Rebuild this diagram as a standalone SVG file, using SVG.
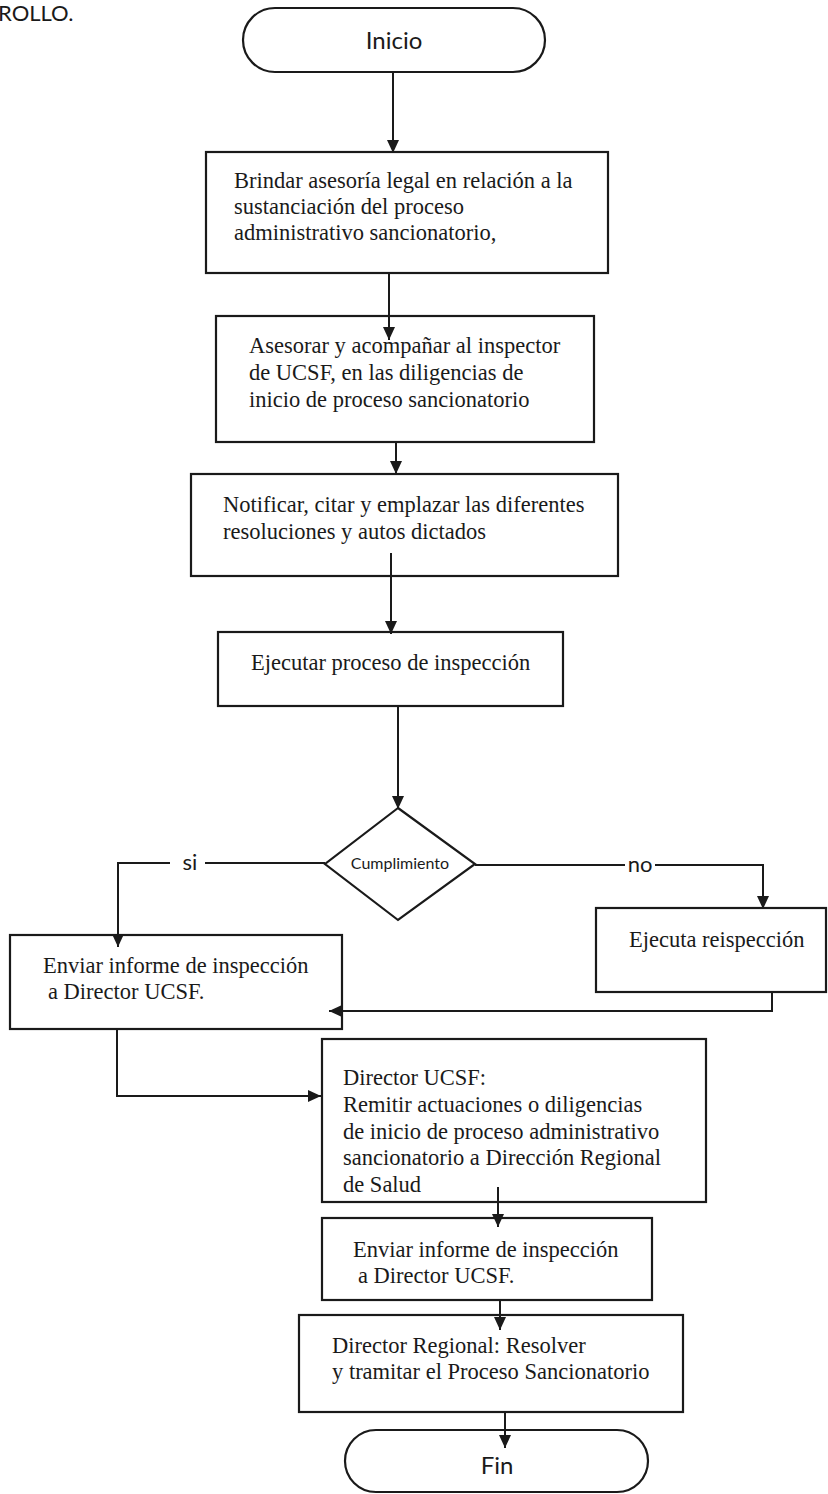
<svg xmlns="http://www.w3.org/2000/svg" width="828" height="1494" viewBox="0 0 828 1494">
<defs>
<marker id="arr" markerUnits="userSpaceOnUse" markerWidth="14" markerHeight="14" viewBox="0 0 14 14" refX="13" refY="7" orient="auto">
<path d="M0,1 L13,7 L0,13 Z" fill="#1a1a1a"/>
</marker>
</defs>
<style>
.box{fill:#fff;stroke:#1a1a1a;stroke-width:2.2}
.term{fill:#fff;stroke:#1a1a1a;stroke-width:2.2}
.t{font-family:"Liberation Serif","Times New Roman",serif;font-size:22.5px;fill:#1a1a1a}
.s{font-family:Lato,"Liberation Sans",sans-serif;fill:#1a1a1a}
.c{fill:none;stroke:#1a1a1a;stroke-width:2}
.ca{fill:none;stroke:#1a1a1a;stroke-width:2;marker-end:url(#arr)}
</style>
<rect width="828" height="1494" fill="#fff"/>
<text class="s" x="-2" y="21" font-size="22">ROLLO.</text>

<g id="inicio">
<rect class="term" x="243" y="8" width="302" height="64" rx="32"/>
<text class="s" x="394" y="49" font-size="24" text-anchor="middle">Inicio</text>
</g>

<g id="n1">
<rect class="box" x="206" y="152" width="402" height="121"/>
<text class="t" x="234" y="188">Brindar asesoría legal en relación a la</text>
<text class="t" x="234" y="214">sustanciación del proceso</text>
<text class="t" x="234" y="240">administrativo sancionatorio,</text>
</g>

<g id="n2">
<rect class="box" x="216" y="316" width="378" height="126"/>
<text class="t" x="249" y="353">Asesorar y acompañar al inspector</text>
<text class="t" x="249" y="380">de UCSF, en las diligencias de</text>
<text class="t" x="249" y="407">inicio de proceso sancionatorio</text>
</g>

<g id="n3">
<rect class="box" x="191" y="474" width="427" height="102"/>
<text class="t" x="223" y="512">Notificar, citar y emplazar las diferentes</text>
<text class="t" x="223" y="539">resoluciones y autos dictados</text>
</g>

<g id="n4">
<rect class="box" x="218" y="632" width="345" height="74"/>
<text class="t" x="251" y="670">Ejecutar proceso de inspección</text>
</g>

<g id="decision">
<polygon class="box" points="398,808 475,864 398,920 325,864"/>
<text class="s" x="400" y="869" font-size="16" text-anchor="middle">Cumplimiento</text>
</g>

<g id="labels">
<text class="s" x="190" y="870" font-size="22" text-anchor="middle">si</text>
<text class="s" x="640" y="872" font-size="22" text-anchor="middle">no</text>
</g>

<g id="n5">
<rect class="box" x="10" y="935" width="332" height="94"/>
<text class="t" x="43" y="973">Enviar informe de inspección</text>
<text class="t" x="48" y="999">a Director UCSF.</text>
</g>

<g id="n6">
<rect class="box" x="596" y="908" width="230" height="84"/>
<text class="t" x="629" y="947">Ejecuta reispección</text>
</g>

<g id="n7">
<rect class="box" x="322" y="1039" width="384" height="163"/>
<text class="t" x="343" y="1085">Director UCSF:</text>
<text class="t" x="343" y="1112">Remitir actuaciones o diligencias</text>
<text class="t" x="343" y="1139">de inicio de proceso administrativo</text>
<text class="t" x="343" y="1165">sancionatorio a Dirección Regional</text>
<text class="t" x="343" y="1192">de Salud</text>
</g>

<g id="n8">
<rect class="box" x="322" y="1218" width="330" height="82"/>
<text class="t" x="353" y="1257">Enviar informe de inspección</text>
<text class="t" x="358" y="1283">a Director UCSF.</text>
</g>

<g id="n9">
<rect class="box" x="299" y="1315" width="384" height="97"/>
<text class="t" x="332" y="1353">Director Regional: Resolver</text>
<text class="t" x="332" y="1379">y tramitar el Proceso Sancionatorio</text>
</g>

<g id="fin">
<rect class="term" x="345" y="1430" width="303" height="62" rx="31"/>
<text class="s" x="497" y="1474" font-size="24" text-anchor="middle">Fin</text>
</g>

<g id="connectors">
<line class="ca" x1="393" y1="72" x2="393" y2="153"/>
<line class="ca" x1="389" y1="273" x2="389" y2="340"/>
<line class="ca" x1="396" y1="442" x2="396" y2="474"/>
<line class="ca" x1="391" y1="553" x2="391" y2="634"/>
<line class="ca" x1="398" y1="706" x2="398" y2="809"/>
<polyline class="c" points="325,863 205,863"/>
<polyline class="ca" points="170,863 118,863 118,947"/>
<polyline class="c" points="475,865 625,865"/>
<polyline class="ca" points="655,865 763,865 763,909"/>
<polyline class="ca" points="772,992 772,1011 329,1011"/>
<polyline class="ca" points="117,1029 117,1096 321,1096"/>
<line class="ca" x1="498" y1="1187" x2="498" y2="1227"/>
<line class="ca" x1="500" y1="1300" x2="500" y2="1330"/>
<line class="ca" x1="505" y1="1412" x2="505" y2="1448"/>
</g>
</svg>
